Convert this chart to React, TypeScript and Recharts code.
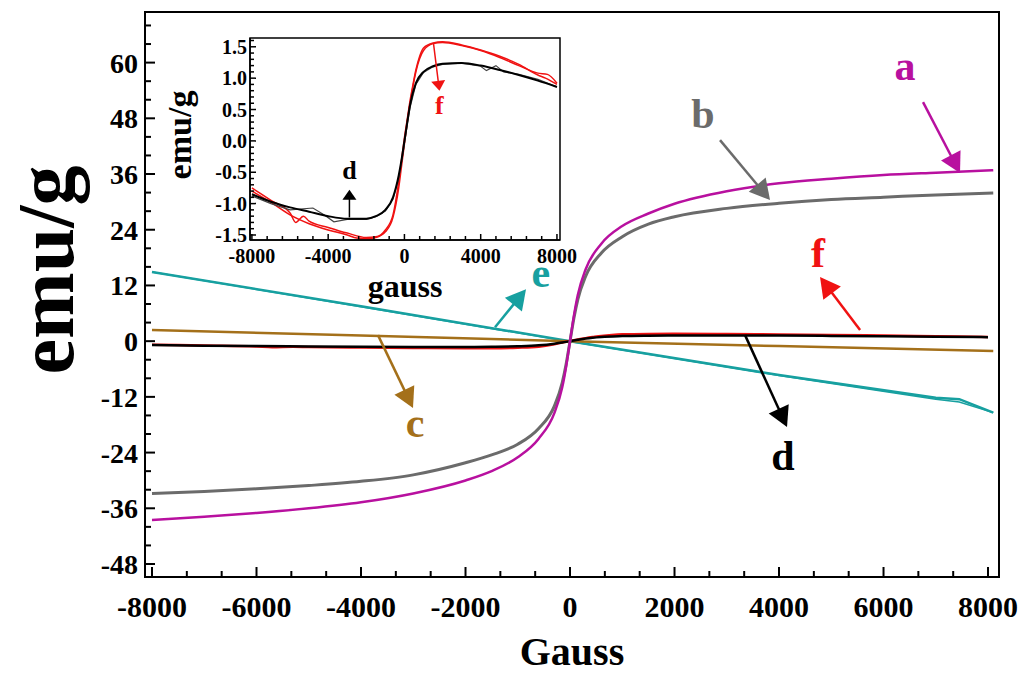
// Magnetisation loops (emu/g vs Gauss) with a zoomed inset of the two weak samples.
import {
  LineChart,
  Line,
  XAxis,
  YAxis,
  ReferenceArea,
  ReferenceLine,
  ReferenceDot,
} from "recharts";

const FONT = '"Liberation Serif", "Times New Roman", serif';

// ---- data (field in Gauss, moment in emu/g) ----
const fieldAB = [-8000, -7000, -6000, -5000, -4000, -3000, -2000, -1500, -1000, -600, -300, -150, -75, 0, 75, 150, 300, 600, 1000, 1500, 2000, 3000, 4000, 5000, 6000, 7000, 8100];
const aVals = [-38.5, -37.8, -37.0, -36.0, -34.7, -32.8, -30.0, -28.0, -25.0, -21.0, -15.5, -10, -5.5, 0, 5.5, 10, 15.5, 21, 24.8, 27.5, 29.6, 32.3, 34.0, 35.0, 35.8, 36.3, 36.8];
const bVals = [-32.8, -32.4, -31.8, -31.1, -30.2, -28.8, -26.2, -24.5, -22.2, -18.8, -14, -9, -5, 0, 5, 9, 14, 19, 22.5, 25.2, 26.8, 28.6, 29.7, 30.5, 31.0, 31.5, 31.9];

const fieldC = [-8000, -4000, 0, 4000, 8100];
const cVals = [2.4, 1.2, 0, -1.05, -2.1];

const fieldE = [-8000, -4000, 0, 4000, 7000, 7450, 8100];
const eVals = [14.9, 7.5, 0, -7.3, -12.2, -12.5, -15.4];
const eVals2 = [14.9, 7.4, -0.1, -7.4, -12.5, -13.1, -15.4];

const fieldD = [-8000, -7000, -6000, -5000, -4000, -3000, -2000, -1500, -1000, -600, -300, -150, 0, 150, 300, 600, 1000, 1500, 2000, 3000, 4000, 5000, 6000, 7000, 8000];
const dVals = [-0.85, -0.97, -1.06, -1.13, -1.2, -1.24, -1.24, -1.2, -1.1, -0.9, -0.55, -0.3, 0, 0.3, 0.58, 0.92, 1.1, 1.19, 1.23, 1.24, 1.2, 1.13, 1.05, 0.96, 0.86];
const fieldD2 = [-8000, -7000, -6000, -4800, -4200, -3700, -3000, -2000, -1500, -1000, -600, -300, -150, 0, 150, 300, 600, 1000, 1500, 2000, 3000, 4000, 4300, 4800, 5200, 6000, 7000, 8000];
const dVals2 = [-0.88, -1.0, -1.1, -1.07, -1.18, -1.29, -1.25, -1.25, -1.21, -1.12, -0.93, -0.6, -0.34, -0.04, 0.26, 0.54, 0.9, 1.09, 1.18, 1.22, 1.24, 1.19, 1.12, 1.2, 1.1, 1.06, 0.98, 0.86];

const fieldF = [-8000, -7000, -6000, -5700, -5300, -5000, -4000, -3000, -2000, -1500, -1000, -600, -300, -150, 0, 150, 300, 450, 600, 800, 1000, 1500, 2000, 3000, 4000, 5000, 6000, 7000, 7400, 8000];
const fVals = [-0.75, -0.95, -1.15, -1.3, -1.2, -1.28, -1.38, -1.47, -1.54, -1.53, -1.42, -1.18, -0.65, -0.3, 0.05, 0.35, 0.65, 0.9, 1.13, 1.35, 1.48, 1.56, 1.58, 1.53, 1.45, 1.35, 1.22, 1.05, 1.0, 0.9];
const fieldF2 = [-8000, -7000, -6000, -5000, -4000, -3000, -2500, -2000, -1500, -1000, -600, -300, -150, 0, 150, 300, 600, 1000, 1500, 2000, 3000, 4000, 5000, 6000, 7000, 7500, 8000];
const fVals2 = [-0.8, -0.98, -1.18, -1.32, -1.42, -1.5, -1.55, -1.56, -1.54, -1.45, -1.22, -0.75, -0.4, -0.05, 0.3, 0.6, 1.1, 1.44, 1.55, 1.57, 1.52, 1.44, 1.33, 1.2, 1.08, 1.06, 0.92];

// ---- axes ----
const mainYDomain = [-50.8, 70.9];
const mainXDomain = [-8134, 8210];
const insetXDomain = [-8100, 8160];
const insetYDomain = [-1.58, 1.64];

// majors every 2000 / 12 / 4000 / 0.5, minors in between
const mainXTicks: number[] = [];
for (let k = 0; k <= 24; k++) mainXTicks.push(-8000 + (k * 2000) / 3);
const mainYTicks: number[] = [];
for (let v = -48; v <= 68; v += 4) mainYTicks.push(v);
const insetXTicks: number[] = [];
for (let v = -8000; v <= 8000; v += 800) insetXTicks.push(v);
const insetYTicks: number[] = [];
for (let k = -15; k <= 16; k++) insetYTicks.push(k / 10);

const C = {
  a: "#b8109f",
  b: "#6b6b6b",
  c: "#a4701a",
  d: "#000000",
  e: "#17a0a0",
  f: "#f01212",
};

// annotation arrows: [from, to] in data units, label at baseline centre
const mainArrows = [
  { id: "a", color: C.a, from: [6756, 51.5], to: [7464, 36.2], label: [6412, 56.2] },
  { id: "b", color: C.b, from: [2871, 43.3], to: [3828, 30.4], label: [2546, 45.9] },
  { id: "f", color: C.f, from: [5551, 2.4], to: [4785, 13.8], label: [4747, 15.9] },
  { id: "d", color: C.d, from: [3350, 1.3], to: [4153, -18.5], label: [4077, -27.8] },
  { id: "c", color: C.c, from: [-3675, 1.3], to: [-3005, -14.4], label: [-2967, -20.7] },
  { id: "e", color: C.e, from: [-1435, 3.0], to: [-842, 11.2], label: [-560, 11.6] },
];
const insetArrows = [
  { id: "d", color: C.d, from: [-2885, -1.22], to: [-2885, -0.78], label: [-2885, -0.61] },
  { id: "f", color: C.f, from: [1521, 1.56], to: [1836, 0.8], label: [1836, 0.43] },
];

const pts = (xs: number[], ys: number[]) => xs.map((x, i) => ({ x, y: ys[i] }));

const arrowShape = (color: string, w: number, head: number, headW: number) => (p: any) => {
  const { x1, y1, x2, y2 } = p;
  const len = Math.hypot(x2 - x1, y2 - y1) || 1;
  const ux = (x2 - x1) / len;
  const uy = (y2 - y1) / len;
  const bx = x2 - ux * head;
  const by = y2 - uy * head;
  const px = (-uy * headW) / 2;
  const py = (ux * headW) / 2;
  return (
    <g>
      <line x1={x1} y1={y1} x2={bx + ux} y2={by + uy} stroke={color} strokeWidth={w} />
      <polygon points={`${x2},${y2} ${bx + px},${by + py} ${bx - px},${by - py}`} fill={color} />
    </g>
  );
};

const letterShape = (txt: string, color: string, size: number) => (p: any) => (
  <text x={p.cx} y={p.cy} textAnchor="middle" fill={color} fontFamily={FONT} fontWeight="bold" fontSize={size}>
    {txt}
  </text>
);

const isMult = (v: number, step: number) => Math.abs(v / step - Math.round(v / step)) < 1e-6;

function MainXTick({ x, y, payload }: any) {
  const major = isMult(payload.value, 2000);
  return (
    <g>
      <line x1={x} x2={x} y1={y} y2={y - (major ? 10 : 6)} stroke="#000" strokeWidth={2} />
      {major && (
        <text x={x} y={y + 40} textAnchor="middle" fontFamily={FONT} fontWeight="bold" fontSize={30} fill="#000">
          {Math.round(payload.value)}
        </text>
      )}
    </g>
  );
}

function MainYTick({ x, y, payload }: any) {
  const major = isMult(payload.value, 12) && payload.value <= 60;
  return (
    <g>
      <line x1={x} x2={x + (major ? 10 : 6)} y1={y} y2={y} stroke="#000" strokeWidth={2} />
      {major && (
        <text x={x - 7} y={y + 10} textAnchor="end" fontFamily={FONT} fontWeight="bold" fontSize={28} fill="#000">
          {payload.value}
        </text>
      )}
    </g>
  );
}

function InsetXTick({ x, y, payload }: any) {
  const major = isMult(payload.value, 4000);
  return (
    <g>
      <line x1={x} x2={x} y1={y} y2={y - (major ? 6 : 4)} stroke="#000" strokeWidth={1.5} />
      {major && (
        <text x={x} y={y + 23} textAnchor="middle" fontFamily={FONT} fontWeight="bold" fontSize={20} fill="#000">
          {payload.value}
        </text>
      )}
    </g>
  );
}

function InsetYTick({ x, y, payload }: any) {
  const major = isMult(payload.value, 0.5) && Math.abs(payload.value) <= 1.5;
  return (
    <g>
      <line x1={x} x2={x + (major ? 6 : 4)} y1={y} y2={y} stroke="#000" strokeWidth={1.5} />
      {major && (
        <text x={x - 3} y={y + 7} textAnchor="end" fontFamily={FONT} fontWeight="bold" fontSize={20} fill="#000">
          {payload.value.toFixed(1)}
        </text>
      )}
    </g>
  );
}

export default function App() {
  return (
    <div style={{ position: "absolute", left: 0, top: 0, width: 1025, height: 674, background: "#fff" }}>
      <LineChart width={1025} height={674} margin={{ top: 12, right: 26, bottom: 0, left: 0 }}>
        <ReferenceArea
          x1={mainXDomain[0]}
          x2={mainXDomain[1]}
          y1={mainYDomain[0]}
          y2={mainYDomain[1]}
          fill="none"
          stroke="#000"
          strokeWidth={2}
        />
        <XAxis
          type="number"
          dataKey="x"
          domain={mainXDomain}
          ticks={mainXTicks}
          interval={0}
          tickSize={0}
          tickMargin={0}
          tickLine={false}
          axisLine={{ stroke: "#000", strokeWidth: 2 }}
          tick={<MainXTick />}
          height={97}
          allowDataOverflow
          label={{
            content: () => (
              <text x={572} y={665} textAnchor="middle" fontFamily={FONT} fontWeight="bold" fontSize={40} fill="#000">
                Gauss
              </text>
            ),
          }}
        />
        <YAxis
          type="number"
          domain={mainYDomain}
          ticks={mainYTicks}
          interval={0}
          tickSize={0}
          tickMargin={0}
          tickLine={false}
          axisLine={{ stroke: "#000", strokeWidth: 2 }}
          tick={<MainYTick />}
          width={145}
          allowDataOverflow
          label={{
            content: () => (
              <text
                x={0}
                y={0}
                transform="translate(73,270) rotate(-90)"
                textAnchor="middle"
                fontFamily={FONT}
                fontWeight="bold"
                fontSize={80}
                fill="#000"
              >
                emu/g
              </text>
            ),
          }}
        />
        <Line data={pts(fieldE, eVals2)} dataKey="y" type="linear" stroke={C.e} strokeWidth={1.5} dot={false} isAnimationActive={false} />
        <Line data={pts(fieldE, eVals)} dataKey="y" type="linear" stroke={C.e} strokeWidth={2.5} dot={false} isAnimationActive={false} />
        <Line data={pts(fieldC, cVals)} dataKey="y" type="linear" stroke={C.c} strokeWidth={2.5} dot={false} isAnimationActive={false} />
        <Line data={pts(fieldF, fVals)} dataKey="y" type="monotone" stroke={C.f} strokeWidth={2.5} dot={false} isAnimationActive={false} />
        <Line data={pts(fieldD, dVals)} dataKey="y" type="monotone" stroke={C.d} strokeWidth={2.5} dot={false} isAnimationActive={false} />
        <Line data={pts(fieldAB, bVals)} dataKey="y" type="monotone" stroke={C.b} strokeWidth={3} dot={false} isAnimationActive={false} />
        <Line data={pts(fieldAB, aVals)} dataKey="y" type="monotone" stroke={C.a} strokeWidth={2.5} dot={false} isAnimationActive={false} />
        {mainArrows.map((a) => (
          <ReferenceLine
            key={"ar" + a.id}
            segment={[
              { x: a.from[0], y: a.from[1] },
              { x: a.to[0], y: a.to[1] },
            ]}
            shape={arrowShape(a.color, 2.5, 20, 22)}
          />
        ))}
        {mainArrows.map((a) => (
          <ReferenceDot key={"lb" + a.id} x={a.label[0]} y={a.label[1]} r={0} shape={letterShape(a.id, a.color, 42)} />
        ))}
      </LineChart>

      <div style={{ position: "absolute", left: 150, top: 30 }}>
        <LineChart width={440} height={285} margin={{ top: 8, right: 30, bottom: 0, left: 0 }}>
          <ReferenceArea
            x1={insetXDomain[0]}
            x2={insetXDomain[1]}
            y1={insetYDomain[0]}
            y2={insetYDomain[1]}
            fill="#fff"
            stroke="#000"
            strokeWidth={1.5}
          />
          <XAxis
            type="number"
            dataKey="x"
            domain={insetXDomain}
            ticks={insetXTicks}
            interval={0}
            tickSize={0}
            tickMargin={0}
            tickLine={false}
            axisLine={{ stroke: "#000", strokeWidth: 1.5 }}
            tick={<InsetXTick />}
            height={75}
            allowDataOverflow
            label={{
              content: () => (
                <text x={255} y={267} textAnchor="middle" fontFamily={FONT} fontWeight="bold" fontSize={32} fill="#000">
                  gauss
                </text>
              ),
            }}
          />
          <YAxis
            type="number"
            domain={insetYDomain}
            ticks={insetYTicks}
            interval={0}
            tickSize={0}
            tickMargin={0}
            tickLine={false}
            axisLine={{ stroke: "#000", strokeWidth: 1.5 }}
            tick={<InsetYTick />}
            width={100}
            allowDataOverflow
            label={{
              content: () => (
                <text
                  x={0}
                  y={0}
                  transform="translate(41,105) rotate(-90)"
                  textAnchor="middle"
                  fontFamily={FONT}
                  fontWeight="bold"
                  fontSize={34}
                  fill="#000"
                >
                  emu/g
                </text>
              ),
            }}
          />
          <Line data={pts(fieldF2, fVals2)} dataKey="y" type="monotone" stroke={C.f} strokeWidth={1.5} dot={false} isAnimationActive={false} />
          <Line data={pts(fieldF, fVals)} dataKey="y" type="monotone" stroke={C.f} strokeWidth={1.5} dot={false} isAnimationActive={false} />
          <Line data={pts(fieldD2, dVals2)} dataKey="y" type="linear" stroke="#444" strokeWidth={1.2} dot={false} isAnimationActive={false} />
          <Line data={pts(fieldD, dVals)} dataKey="y" type="monotone" stroke={C.d} strokeWidth={2} dot={false} isAnimationActive={false} />
          {insetArrows.map((a) => (
            <ReferenceLine
              key={"iar" + a.id}
              segment={[
                { x: a.from[0], y: a.from[1] },
                { x: a.to[0], y: a.to[1] },
              ]}
              shape={arrowShape(a.color, 1.5, 10, 14)}
            />
          ))}
          {insetArrows.map((a) => (
            <ReferenceDot key={"ilb" + a.id} x={a.label[0]} y={a.label[1]} r={0} shape={letterShape(a.id, a.color, 26)} />
          ))}
        </LineChart>
      </div>
    </div>
  );
}
